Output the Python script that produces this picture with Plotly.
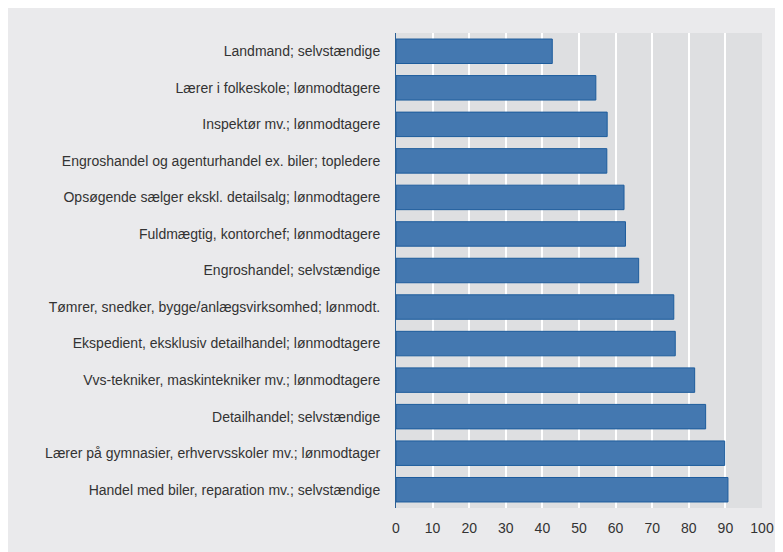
import plotly.graph_objects as go

# kategorier (øverst -> nederst) og værdier
categories = [
    "Landmand; selvstændige",
    "Lærer i folkeskole; lønmodtagere",
    "Inspektør mv.; lønmodtagere",
    "Engroshandel og agenturhandel ex. biler; topledere",
    "Opsøgende sælger ekskl. detailsalg; lønmodtagere",
    "Fuldmægtig, kontorchef; lønmodtagere",
    "Engroshandel; selvstændige",
    "Tømrer, snedker, bygge/anlægsvirksomhed; lønmodt.",
    "Ekspedient, eksklusiv detailhandel; lønmodtagere",
    "Vvs-tekniker, maskintekniker mv.; lønmodtagere",
    "Detailhandel; selvstændige",
    "Lærer på gymnasier, erhvervsskoler mv.; lønmodtager",
    "Handel med biler, reparation mv.; selvstændige",
]
values = [42.7, 54.6, 57.7, 57.6, 62.3, 62.7, 66.3, 75.9, 76.3, 81.6, 84.6, 89.8, 90.7]
x_ticks = [0, 10, 20, 30, 40, 50, 60, 70, 80, 90, 100]

fig = go.Figure()
fig.add_trace(go.Bar(
    x=values,
    y=categories,
    orientation='h',
    marker=dict(color='#4478b0', line=dict(color='#1d5c9c', width=1)),
    width=0.67,
))

fig.update_layout(
    width=783,
    height=552,
    paper_bgcolor='#eaeaec',
    plot_bgcolor='#dedfe1',
    margin=dict(l=388, r=29, t=25, b=52),
    font=dict(family='Liberation Sans, Arial, sans-serif', size=14, color='#333333'),
    showlegend=False,
    bargap=0.33,
    xaxis=dict(
        range=[0, 100],
        tickvals=x_ticks,
        showgrid=True,
        gridcolor='#ffffff',
        gridwidth=2,
        zeroline=False,
        showline=False,
        ticks='',
        ticklabelstandoff=10,
        fixedrange=True,
    ),
    yaxis=dict(
        autorange='reversed',
        showgrid=False,
        showline=True,
        linecolor='#2a5f95',
        linewidth=1,
        ticks='',
        ticklabelstandoff=12,
        fixedrange=True,
    ),
)

fig.write_html("out.html")
